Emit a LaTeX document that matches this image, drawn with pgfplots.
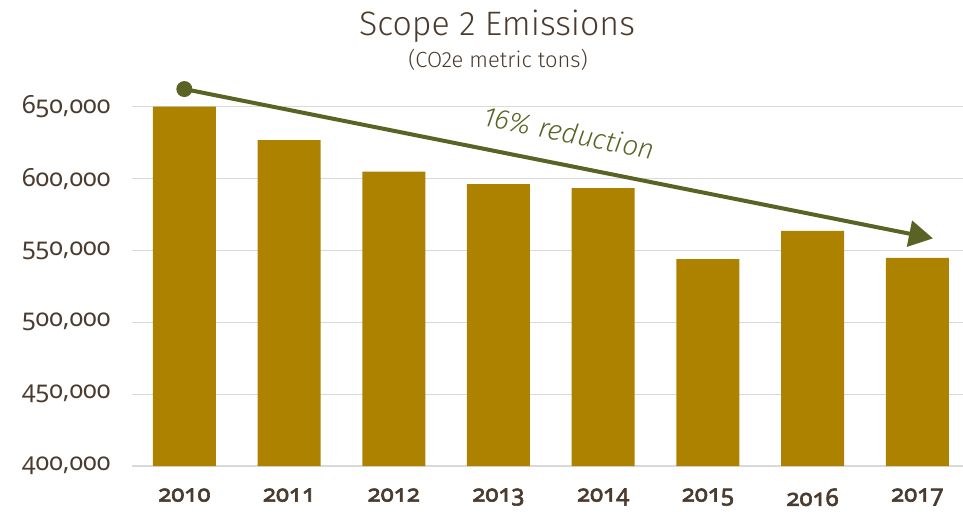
\documentclass[border=0pt]{standalone}
\usepackage{pgfplots}
\pgfplotsset{compat=1.18}
\usepackage{fontspec}
\setmainfont{Fira Sans}
\newfontfamily\titlefont{Fira Sans Light}
\newfontfamily\tickfont{Noto Sans}[Numbers=OldStyle]
\newfontfamily\tickbold{Noto Sans}[Numbers=OldStyle, FakeBold=2.5]
\usetikzlibrary{arrows.meta}
\definecolor{barc}{HTML}{AD8200}
\definecolor{txtc}{HTML}{4A3B2E}
\definecolor{arrc}{HTML}{5A6324}
\definecolor{gridc}{HTML}{D9D9D9}
\begin{document}
\begin{tikzpicture}[x=1bp,y=1bp]
\path[use as bounding box] (-132bp,-48bp) rectangle (831bp,466bp);
\begin{axis}[
  at={(0,0)}, anchor=south west,
  scale only axis, width=831bp, height=388bp,
  ybar, bar width=63bp,
  xmin=-0.5, xmax=7.437,
  ymin=400000, ymax=670000,
  ytick={400000,450000,500000,550000,600000,650000},
  yticklabels={{400,000},{450,000},{500,000},{550,000},{600,000},{650,000}},
  xtick={0,...,7},
  xticklabels={2010,2011,2012,2013,2014,2015,2016,2017},
  x tick label style={font=\fontsize{24}{27}\selectfont\tickbold\bfseries, text=txtc, yshift=-19bp},
  y tick label style={font=\fontsize{25}{28}\selectfont\tickfont, text=txtc, xshift=-18bp},
  scaled y ticks=false,
  ymajorgrids, grid style={gridc, line width=1.2bp},
  axis x line*=bottom, axis y line*=left,
  x axis line style={gridc, line width=1.2bp},
  y axis line style={draw=none},
  major tick length=0pt,
  clip=false,
]
\addplot[fill=barc, draw=none, bar shift=0pt] coordinates {
  (0,650000) (1,626800) (2,604900) (3,596100) (4,593300) (5,543900) (6,563700) (7,544900)};
\draw[arrc, line width=4bp, -{Triangle[length=24bp,width=26bp]}] (axis cs:0,662300) -- (axis cs:7.15,558400);
\fill[arrc] (axis cs:0,662300) circle (8bp);
\node[arrc, rotate=-11.4, font=\fontsize{28}{32}\selectfont\titlefont\itshape] at (axis cs:3.68,632000) {16\% reduction};
\end{axis}
\node[txtc, font=\fontsize{34}{39}\selectfont\titlefont] at (365bp,440bp) {Scope 2 Emissions};
\node[txtc, font=\fontsize{22}{25}\selectfont\titlefont] at (366bp,406bp) {(CO2e metric tons)};
\end{tikzpicture}
\end{document}
